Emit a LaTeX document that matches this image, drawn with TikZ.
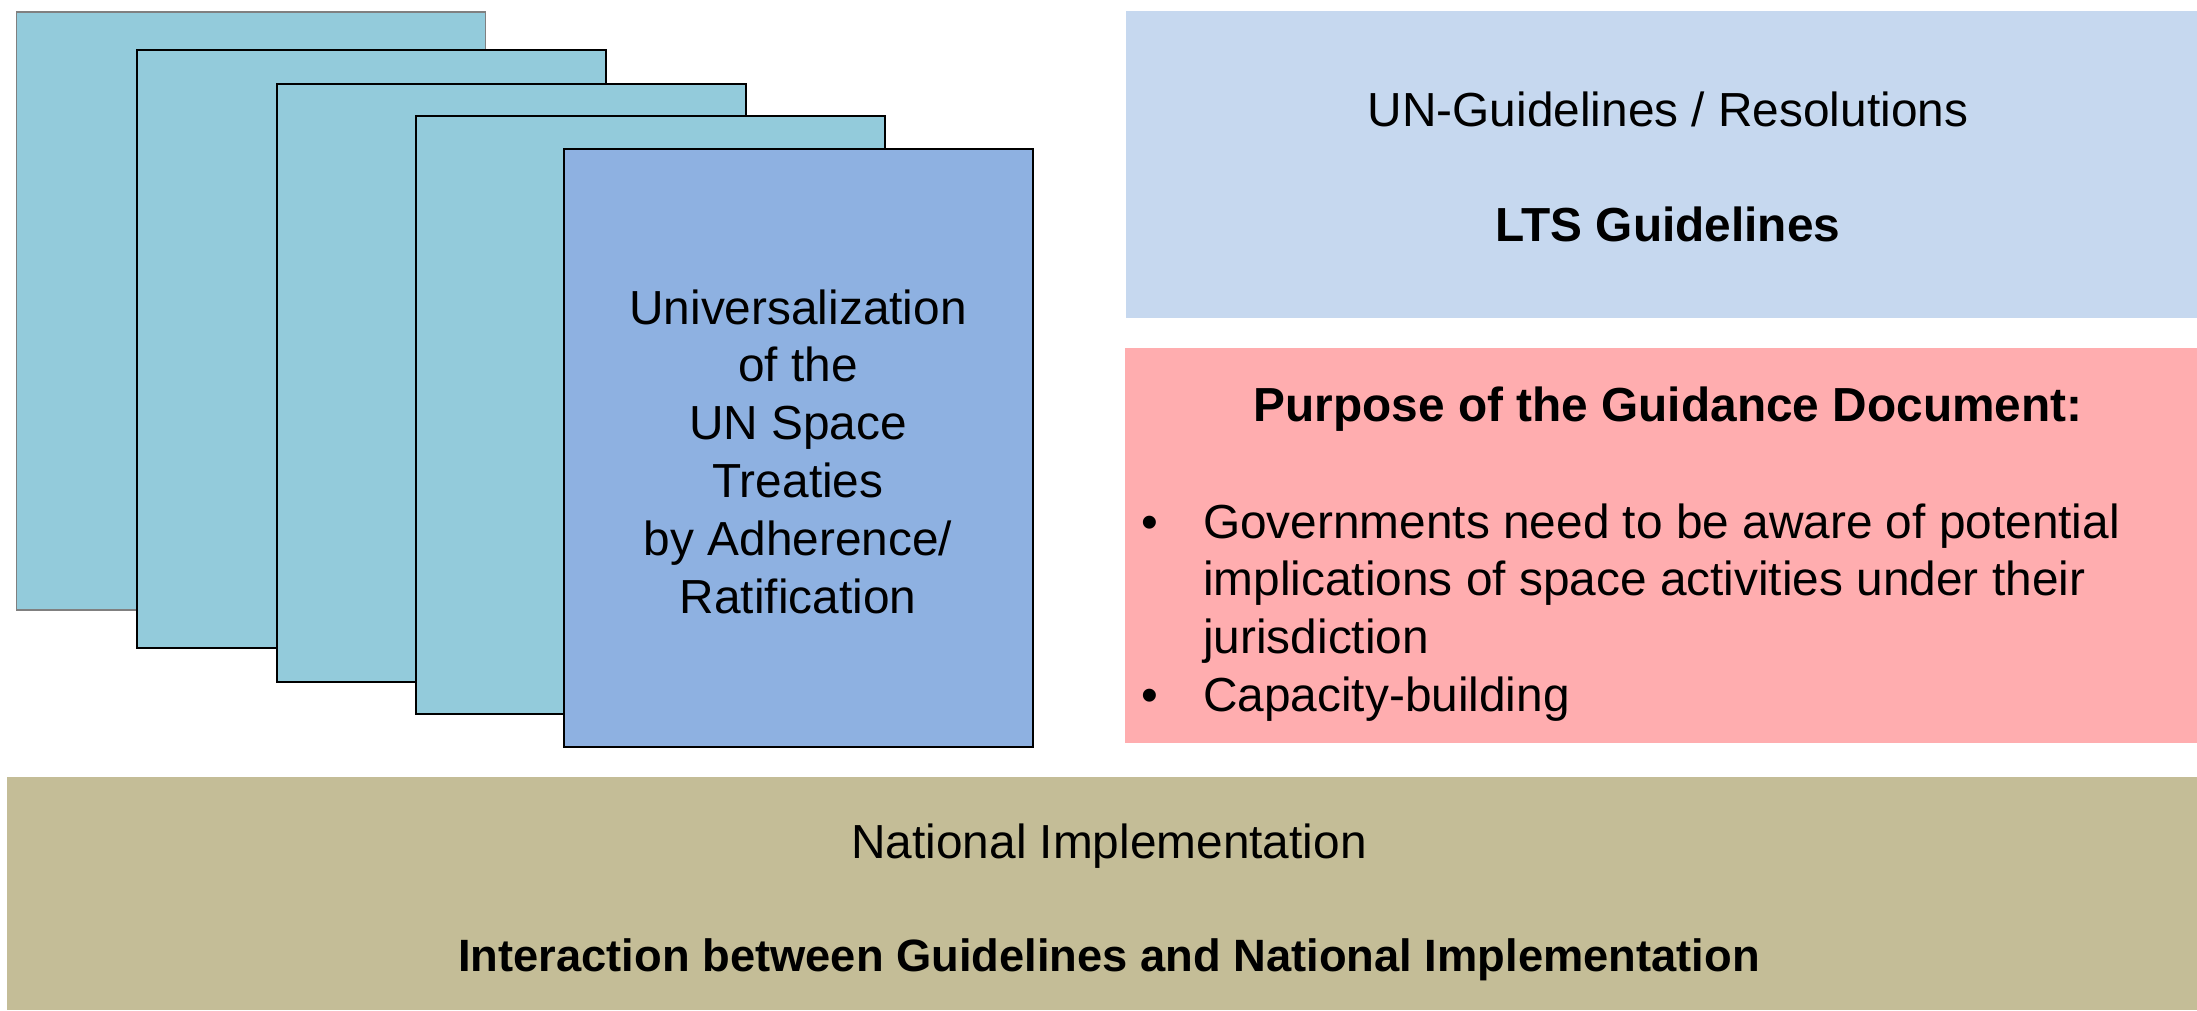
\documentclass[tikz,border=0pt]{standalone}
\usepackage{fontspec}
\setmainfont{Liberation Sans}
\definecolor{pagecol}{HTML}{93CBDB}
\definecolor{frontcol}{HTML}{8EB1E1}
\definecolor{blueboxcol}{HTML}{C6D8EF}
\definecolor{pinkboxcol}{HTML}{FFADAF}
\definecolor{tanboxcol}{HTML}{C4BD97}
\begin{document}
\begin{tikzpicture}[x=1pt,y=-1pt,
  sheet/.style={draw=black, line width=2pt, fill=pagecol, anchor=north west, inner sep=0pt,
    minimum width=469pt, minimum height=598pt},
  panel/.style={draw=none, anchor=north west, inner sep=0pt},
  label/.style={font=\fontsize{47.8}{57.8}\selectfont, inner sep=0pt, anchor=base}]
\path[use as bounding box] (0,0) rectangle (2197,1010);
% stacked sheets
\node[sheet, draw=gray, line width=1.5pt] (p1) at (15.5,11) {};
\node[sheet] (p2) at (136,49) {};
\node[sheet] (p3) at (276,83) {};
\node[sheet] (p4) at (415,115) {};
\node[sheet, fill=frontcol] (p5) at (563,148) {};
\node[label] (treaty) at (798,324) {\begin{tabular}[t]{@{}c@{}}Universalization\\ of the\\ UN Space\\ Treaties\\ by Adherence/\\ Ratification\end{tabular}};
% UN guidelines panel
\node[panel, fill=blueboxcol, minimum width=1071pt, minimum height=307pt] (lts) at (1126,11) {};
\node[label] (ltstext) at (1668,126) {\begin{tabular}[t]{@{}c@{}}UN-Guidelines / Resolutions\\[57.8pt] \textbf{LTS Guidelines}\end{tabular}};
% purpose panel
\node[panel, fill=pinkboxcol, minimum width=1072pt, minimum height=395pt] (purpose) at (1125,348) {};
\node[label] (ptitle) at (1668,421) {\textbf{Purpose of the Guidance Document:}};
\node[label, anchor=base west] (plist) at (1141,538) {\begin{tabular}[t]{@{}l@{}l@{}}\makebox[62pt][l]{\textbullet} & Governments need to be aware of potential\\ & implications of space activities under their\\ & jurisdiction\\ \makebox[62pt][l]{\textbullet} & Capacity-building\end{tabular}};
% national implementation panel
\node[panel, fill=tanboxcol, minimum width=2190pt, minimum height=233pt] (natimpl) at (7,777) {};
\node[label] (nat) at (1109,858) {National Implementation};
\node[label, font=\fontsize{45.3}{54}\selectfont] (inter) at (1109,971) {\textbf{Interaction between Guidelines and National Implementation}};
\end{tikzpicture}
\end{document}
